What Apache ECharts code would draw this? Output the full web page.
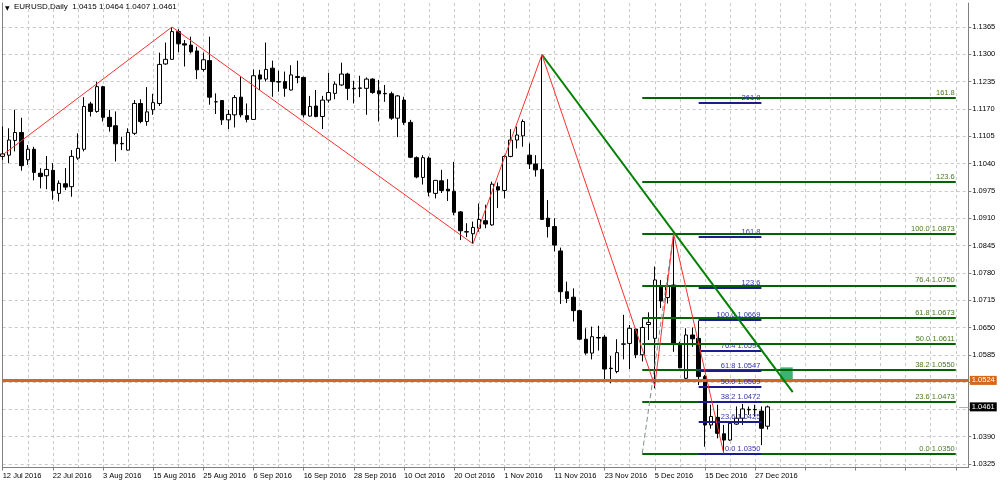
<!DOCTYPE html>
<html><head><meta charset="utf-8">
<script src="https://cdn.jsdelivr.net/npm/echarts@6/dist/echarts.min.js"></script>
<style>html,body{margin:0;padding:0;background:#fff}#c{width:1000px;height:484px}</style>
</head><body><div id="c"></div>
<script>
const FONT = '"Liberation Sans", Arial, sans-serif';
// x tick labels every 8 bars, starting at bar 0 (12 Jul 2016)
const xTickLabels = ['12 Jul 2016','22 Jul 2016','3 Aug 2016','15 Aug 2016','25 Aug 2016','6 Sep 2016','16 Sep 2016','28 Sep 2016','10 Oct 2016','20 Oct 2016','1 Nov 2016','11 Nov 2016','23 Nov 2016','5 Dec 2016','15 Dec 2016','27 Dec 2016'];
const yTicks = [1.0325,1.0390,1.0455,1.0520,1.0585,1.0650,1.0715,1.0780,1.0845,1.0910,1.0975,1.1040,1.1105,1.1170,1.1235,1.1300,1.1365];

const opens = [1.1057,1.1060,1.1095,1.1114,1.1049,1.1074,1.1017,1.1011,1.1024,1.0969,
1.0992,1.0985,1.1053,1.1074,1.1182,1.1164,1.1223,1.1150,1.1130,1.1087,
1.1072,1.1112,1.1183,1.1140,1.1168,1.1183,1.1277,1.1288,1.1354,1.1325,
1.1322,1.1308,1.1264,1.1285,1.1187,1.1190,1.1144,1.1156,1.1198,1.1154,
1.1145,1.1251,1.1241,1.1267,1.1235,1.1235,1.1215,1.1247,1.1245,1.1153,
1.1177,1.1152,1.1191,1.1207,1.1227,1.1253,1.1218,1.1219,1.1219,1.1241,
1.1213,1.1207,1.1206,1.1148,1.1191,1.1138,1.1054,1.1007,1.1053,1.0969,
1.0999,1.0979,1.0974,1.0925,1.0877,1.0873,1.0886,1.0904,1.0894,1.0985,
1.0976,1.1057,1.1096,1.1106,1.1060,1.1039,1.1026,1.0910,1.0890,1.0832,
1.0735,1.0722,1.0690,1.0622,1.0589,1.0626,1.0627,1.0553,1.0545,1.0610,
1.0612,1.0646,1.0585,1.0657,1.0624,1.0749,1.0721,1.0751,1.0612,1.0529,
1.0632,1.0624,1.0533,1.0418,1.0436,1.0397,1.0382,1.0420,1.0434,1.0454,
1.0455,1.0451,1.0415];
const highs = [1.1128,1.1124,1.1168,1.1149,1.1084,1.1080,1.1029,1.1058,1.1041,1.1000,
1.1029,1.1072,1.1112,1.1198,1.1187,1.1235,1.1225,1.1168,1.1164,1.1104,
1.1124,1.1191,1.1193,1.1222,1.1206,1.1304,1.1328,1.1365,1.1360,1.1334,
1.1342,1.1318,1.1304,1.1342,1.1207,1.1191,1.1168,1.1203,1.1247,1.1183,
1.1264,1.1263,1.1328,1.1285,1.1261,1.1259,1.1274,1.1285,1.1247,1.1201,
1.1215,1.1201,1.1256,1.1235,1.1280,1.1256,1.1237,1.1249,1.1245,1.1243,
1.1239,1.1227,1.1211,1.1203,1.1199,1.1144,1.1057,1.1060,1.1057,1.1001,
1.1025,1.1003,1.1044,1.0927,1.0898,1.0902,1.0945,1.0942,1.0997,1.0995,
1.1060,1.1122,1.1128,1.1145,1.1088,1.1060,1.1299,1.0953,1.0910,1.0840,
1.0759,1.0743,1.0692,1.0648,1.0652,1.0654,1.0632,1.0582,1.0622,1.0680,
1.0656,1.0648,1.0673,1.0686,1.0795,1.0763,1.0773,1.0873,1.0616,1.0648,
1.0650,1.0666,1.0537,1.0466,1.0466,1.0418,1.0426,1.0462,1.0468,1.0462,
1.0466,1.0462,1.0464];
const lows = [1.1049,1.1041,1.1069,1.1023,1.1037,1.1000,1.0981,1.0979,1.0954,1.0950,
1.0977,1.0961,1.1049,1.1069,1.1152,1.1161,1.1140,1.1116,1.1045,1.1072,
1.1071,1.1108,1.1136,1.1130,1.1156,1.1177,1.1275,1.1287,1.1305,1.1271,
1.1302,1.1241,1.1259,1.1180,1.1158,1.1132,1.1122,1.1126,1.1150,1.1138,
1.1144,1.1215,1.1235,1.1199,1.1211,1.1199,1.1214,1.1231,1.1150,1.1152,
1.1150,1.1122,1.1185,1.1193,1.1225,1.1191,1.1183,1.1198,1.1156,1.1206,
1.1140,1.1187,1.1144,1.1103,1.1132,1.1053,1.1005,1.0990,1.0962,1.0957,
1.0970,1.0951,1.0917,1.0858,1.0865,1.0849,1.0878,1.0886,1.0892,1.0934,
1.0957,1.1055,1.1076,1.1080,1.1027,1.1009,1.0906,1.0864,1.0831,1.0706,
1.0708,1.0664,1.0620,1.0585,1.0574,1.0595,1.0521,1.0517,1.0541,1.0574,
1.0551,1.0577,1.0569,1.0620,1.0505,1.0696,1.0707,1.0592,1.0553,1.0525,
1.0604,1.0513,1.0366,1.0409,1.0386,1.0350,1.0380,1.0418,1.0418,1.0442,
1.0438,1.0370,1.0407];
const closes = [1.1063,1.1096,1.1114,1.1035,1.1074,1.1019,1.1009,1.1026,1.0976,1.0993,
1.0984,1.1057,1.1076,1.1176,1.1164,1.1223,1.1150,1.1128,1.1087,1.1088,
1.1114,1.1183,1.1140,1.1163,1.1185,1.1276,1.1288,1.1354,1.1325,1.1322,
1.1306,1.1263,1.1287,1.1198,1.1187,1.1144,1.1157,1.1197,1.1156,1.1145,
1.1249,1.1241,1.1264,1.1235,1.1234,1.1219,1.1251,1.1245,1.1156,1.1176,
1.1152,1.1191,1.1209,1.1229,1.1253,1.1219,1.1219,1.1220,1.1241,1.1209,
1.1206,1.1206,1.1148,1.1201,1.1138,1.1055,1.1008,1.1054,1.0972,1.1000,
1.0976,1.0975,1.0924,1.0880,1.0878,1.0888,1.0907,1.0896,1.0991,1.0977,
1.1057,1.1096,1.1108,1.1140,1.1039,1.1025,1.0907,1.0890,1.0846,1.0735,
1.0719,1.0690,1.0622,1.0589,1.0628,1.0625,1.0551,1.0552,1.0590,1.0611,
1.0648,1.0585,1.0650,1.0662,1.0763,1.0713,1.0749,1.0612,1.0554,1.0632,
1.0623,1.0533,1.0418,1.0438,1.0398,1.0382,1.0422,1.0434,1.0456,1.0455,
1.0454,1.0410,1.0461];

// drawn objects, in (bar index, price)
const zigzag = [[-0.5,1.1055],[27,1.1365],[75,1.0849],[86,1.1299],[104,1.0511],[107,1.0873],[115,1.0350]];
const trendLine = [[86,1.1299],[126,1.0496]];
const fibTrend = [[102,1.0350],[107,1.0873]];
const greenFibRange = [102,152];
const greenFibPrices = [1.0350,1.0473,1.0550,1.0611,1.0673,1.0750,1.0873,1.0996,1.1196];
const greenFibLabels = ['0.0 1.0350','23.6 1.0473','38.2 1.0550','50.0 1.0611','61.8 1.0673','76.4 1.0750','100.0 1.0873','123.6','161.8'];
const blueFibRange = [111,121];
const blueFibPrices = [1.0350,1.0425,1.0472,1.0509,1.0547,1.0594,1.0669,1.0744,1.0866,1.1185];
const blueFibLabels = ['0.0 1.0350','23.6 1.0425','38.2 1.0472','50.0 1.0509','61.8 1.0547','76.4 1.0594','100.0 1.0669','123.6','161.8','261.8'];
const zoneBox = [[124,1.0555],[126,1.0524]];
const supportLevel = 1.0524;
const lastPrice = 1.0461;
const priceSpan = [0,154];
const headerText = 'EURUSD,Daily  1.0415 1.0464 1.0407 1.0461';

const yMin = 1.03167, yMax = 1.14221;
const gridLine = {color:'#c8c8c8', width:1, type:[3,3]};

function fibMark(range, prices, labels){
  return prices.map((p,k)=>[
    {coord:[range[0],p], label:{formatter: labels[k]}},
    {coord:[range[1],p]}
  ]);
}
const priceTag = (text, bg) => ({show:true, position:'end', distance:1.5, formatter:text, color:'#fff',
  backgroundColor:bg, padding:[1,2,0,2], fontSize:7.5, fontFamily:FONT});

const chart = echarts.init(document.getElementById('c'), null, {renderer:'canvas'});
chart.setOption({
  animation:false,
  backgroundColor:'#fff',
  grid:{left:2.7, right:31.7, top:3, bottom:16.5, containLabel:false, outerBoundsMode:'none'},
  graphic:[
    {type:'text', left:5, top:5, style:{text:'▼', font:'6px "DejaVu Sans"', fill:'#000'}},
    {type:'text', left:14, top:3, style:{text:headerText, font:'8px ' + FONT, fill:'#000'}}
  ],
  xAxis:{
    type:'value', min:0, max:154, interval:8,
    axisLine:{show:true, onZero:false, lineStyle:{color:'#808080'}},
    axisTick:{show:true, length:3, lineStyle:{color:'#808080'}},
    axisLabel:{formatter:v => (v % 8 === 0 && xTickLabels[v/8]) || '', align:'left', margin:4,
      fontSize:7.5, fontFamily:FONT, color:'#000', showMaxLabel:false},
    splitLine:{show:true, lineStyle:gridLine},
    minorTick:{show:false, splitNumber:2},
    minorSplitLine:{show:true, lineStyle:gridLine}
  },
  yAxis:[{
    type:'value', position:'right', min:yMin, max:yMax,
    axisLine:{show:true, onZero:false, lineStyle:{color:'#808080'}},
    axisTick:{show:true, length:3, customValues:yTicks, lineStyle:{color:'#808080'}},
    axisLabel:{customValues:yTicks, formatter:v => v.toFixed(4), margin:4, fontSize:7.5, fontFamily:FONT, color:'#000'},
    splitLine:{show:true, lineStyle:gridLine}
  },{
    type:'value', position:'left', min:yMin, max:yMax,
    axisLine:{show:true, onZero:false, lineStyle:{color:'#808080'}},
    axisTick:{show:false}, axisLabel:{show:false}, splitLine:{show:false}
  }],
  series:[
    {
      type:'candlestick', z:2,
      data: opens.map((o,i)=>[i, o, closes[i], lows[i], highs[i]]),
      encode:{x:0, y:[1,2,3,4]},
      barWidth:4,
      itemStyle:{color:'#ffffff', color0:'#000000', borderColor:'#000000', borderColor0:'#000000', borderWidth:1}
    },
    {
      type:'line', z:4, data:[],
      markArea:{silent:true, itemStyle:{color:'#3cb371'}, data:[[{coord:zoneBox[0]},{coord:zoneBox[1]}]]},
      markLine:{
        silent:true, symbol:['none','none'], animation:false,
        lineStyle:{color:'#006400', width:2, type:'solid'},
        label:{show:true, position:'insideEndTop', distance:1, color:'#4b7a1e', fontSize:7.5, fontFamily:FONT},
        data: fibMark(greenFibRange, greenFibPrices, greenFibLabels)
      }
    },
    {
      type:'line', z:5, data:[],
      markLine:{
        silent:true, symbol:['none','none'], animation:false,
        lineStyle:{color:'#1c1c8e', width:2, type:'solid'},
        label:{show:true, position:'insideEndTop', distance:1, color:'#3535a5', fontSize:7.5, fontFamily:FONT},
        data: fibMark(blueFibRange, blueFibPrices, blueFibLabels)
      }
    },
    {type:'line', z:6, data:fibTrend, showSymbol:false, lineStyle:{color:'#7f8c8c', width:1, type:[5,3]}},
    {type:'line', z:6, data:trendLine, showSymbol:false, lineStyle:{color:'#008000', width:2}},
    {type:'line', z:7, data:zigzag, showSymbol:false, lineStyle:{color:'#ff3030', width:1}},
    {
      type:'line', z:8, data:[],
      markLine:{
        silent:true, symbol:['none','none'], animation:false,
        data:[
          [{coord:[priceSpan[0],supportLevel], lineStyle:{color:'#d2691e', width:3, type:'solid'}, label:priceTag('1.0524','#d2691e')},
           {coord:[priceSpan[1],supportLevel]}],
          [{coord:[152.5,lastPrice], lineStyle:{color:'#b0b0b0', width:1, type:'solid'}, label:priceTag('1.0461','#000')},
           {coord:[priceSpan[1],lastPrice]}]
        ]
      }
    }
  ]
});
</script></body></html>
